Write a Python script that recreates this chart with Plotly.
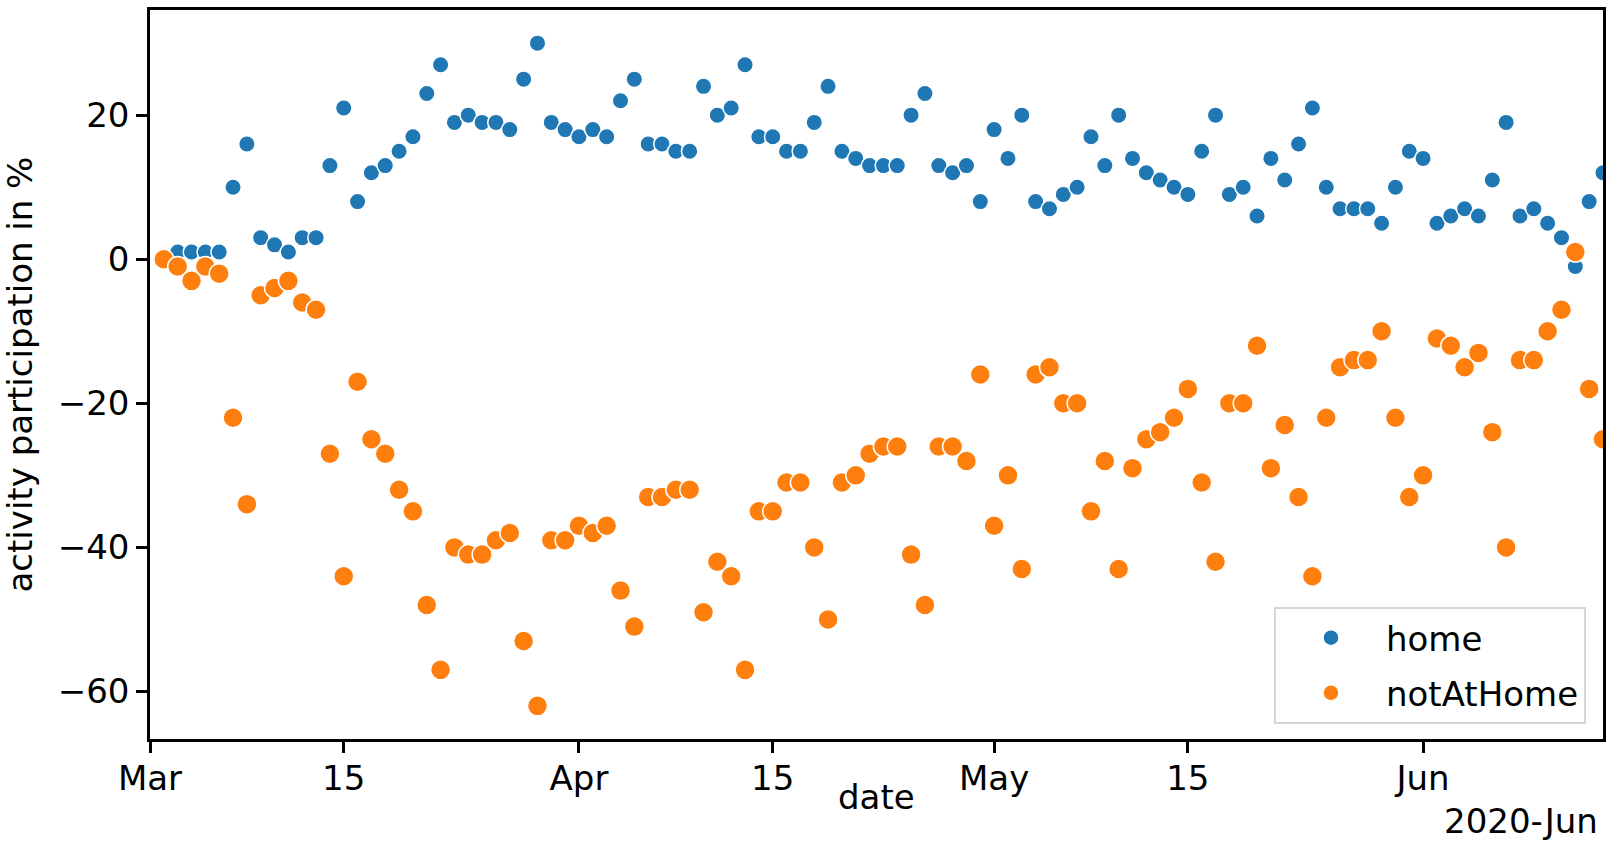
import pandas as pd
import plotly.graph_objects as go

# ---- data ----
dates = pd.date_range("2020-03-02", "2020-06-14", freq="D")

home = [0, 1, 1, 1, 1, 10, 16, 3, 2, 1, 3, 3, 13, 21, 8, 12, 13, 15, 17, 23,
        27, 19, 20, 19, 19, 18, 25, 30, 19, 18, 17, 18, 17, 22, 25, 16, 16, 15, 15, 24,
        20, 21, 27, 17, 17, 15, 15, 19, 24, 15, 14, 13, 13, 13, 20, 23, 13, 12, 13, 8,
        18, 14, 20, 8, 7, 9, 10, 17, 13, 20, 14, 12, 11, 10, 9, 15, 20, 9, 10, 6,
        14, 11, 16, 21, 10, 7, 7, 7, 5, 10, 15, 14, 5, 6, 7, 6, 11, 19, 6, 7,
        5, 3, -1, 8, 12]

not_at_home = [0, -1, -3, -1, -2, -22, -34, -5, -4, -3, -6, -7, -27, -44, -17, -25, -27, -32, -35, -48,
               -57, -40, -41, -41, -39, -38, -53, -62, -39, -39, -37, -38, -37, -46, -51, -33, -33, -32, -32, -49,
               -42, -44, -57, -35, -35, -31, -31, -40, -50, -31, -30, -27, -26, -26, -41, -48, -26, -26, -28, -16,
               -37, -30, -43, -16, -15, -20, -20, -35, -28, -43, -29, -25, -24, -22, -18, -31, -42, -20, -20, -12,
               -29, -23, -33, -44, -22, -15, -14, -14, -10, -22, -33, -30, -11, -12, -15, -13, -24, -40, -14, -14,
               -10, -7, 1, -18, -25]

series_names = ["home", "notAtHome"]
series_colors = ["#1f77b4", "#ff7f0e"]

x_tick_vals = ["2020-03-01", "2020-03-15", "2020-04-01", "2020-04-15",
               "2020-05-01", "2020-05-15", "2020-06-01"]
x_tick_text = ["Mar", "15", "Apr", "15", "May", "15", "Jun"]
y_tick_vals = [-60, -40, -20, 0, 20]
y_tick_text = ["\u221260", "\u221240", "\u221220", "0", "20"]

x_range = ["2020-03-01", "2020-06-14"]
y_range = [-66.6, 34.6]

FONT = "DejaVu Sans"
FS = 34

fig = go.Figure()
fig.add_trace(go.Scatter(
    x=dates, y=home, mode="markers", name=series_names[0], legendgroup="a",
    marker=dict(color=series_colors[0], size=16.5, line=dict(color="white", width=1.5)),
))
fig.add_trace(go.Scatter(
    x=dates, y=not_at_home, mode="markers", name=series_names[1], legendgroup="b",
    marker=dict(color=series_colors[1], size=20, line=dict(color="white", width=1.5)),
))

axis_common = dict(
    showline=True, linecolor="black", linewidth=2.5, mirror=True,
    ticks="outside", ticklen=11, tickwidth=2.5, tickcolor="black",
    showgrid=False, zeroline=False,
    tickfont=dict(family=FONT, size=FS, color="black"),
)

fig.update_xaxes(type="date", range=x_range, tickvals=x_tick_vals, ticktext=x_tick_text,
                 ticklabelstandoff=-4, **axis_common)
fig.update_yaxes(range=y_range, tickvals=y_tick_vals, ticktext=y_tick_text, **axis_common)

fig.update_layout(
    width=1613, height=841,
    margin=dict(l=150, r=9, t=7, b=102),
    paper_bgcolor="white", plot_bgcolor="white",
    font=dict(family=FONT, size=FS, color="black"),
    showlegend=True,
    legend=dict(
        x=0.9883, y=0.0205, xanchor="right", yanchor="bottom",
        bgcolor="rgba(255,255,255,0.8)", bordercolor="#d6d6d6", borderwidth=2,
        font=dict(family=FONT, size=FS, color="black"),
        tracegroupgap=8, itemwidth=100,
    ),
    annotations=[
        dict(text="date", xref="paper", yref="paper", x=0.5, y=0, xanchor="center",
             yanchor="middle", yshift=-58, showarrow=False,
             font=dict(family=FONT, size=FS, color="black")),
        dict(text="2020-Jun", xref="paper", yref="paper", x=1, y=0, xanchor="right",
             yanchor="middle", xshift=-3, yshift=-82, showarrow=False,
             font=dict(family=FONT, size=FS, color="black")),
        dict(text="activity participation in %", xref="paper", yref="paper", x=0, y=0.5,
             xanchor="center", yanchor="middle", xshift=-131, textangle=-90, showarrow=False,
             font=dict(family=FONT, size=FS, color="black")),
    ],
)

fig.write_html("out.html", config={"displayModeBar": False},
               post_script="document.body.style.margin='0px';")
